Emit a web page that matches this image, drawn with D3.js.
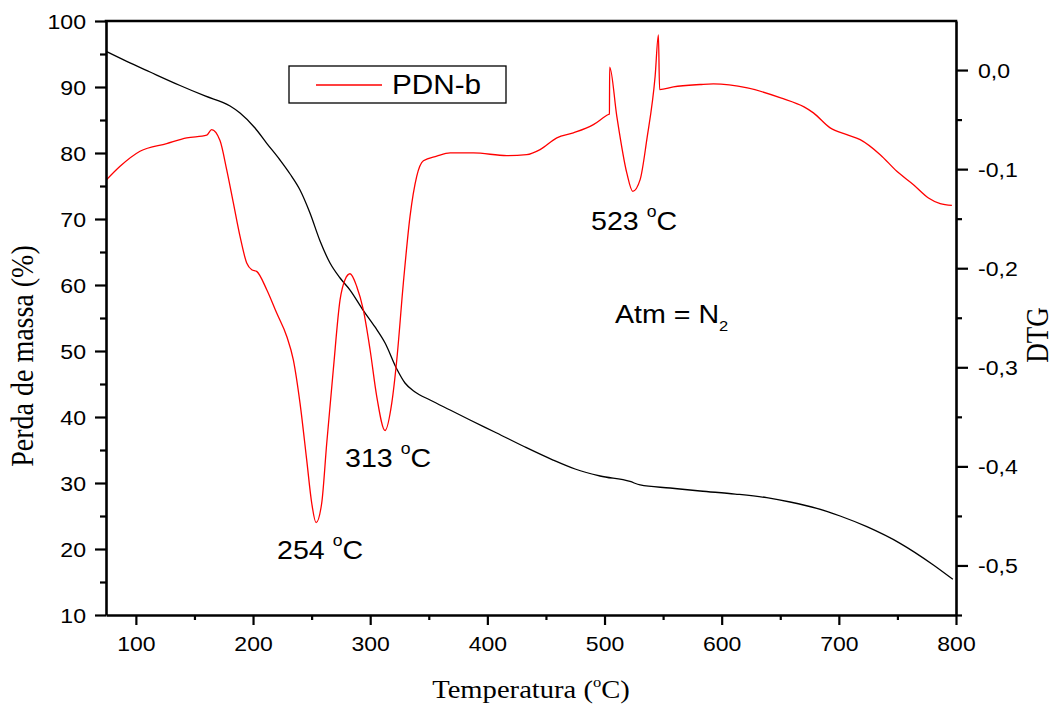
<!DOCTYPE html>
<html>
<head>
<meta charset="utf-8">
<script src="https://cdn.jsdelivr.net/npm/d3@7"></script>
<style>
  html, body { margin: 0; padding: 0; background: #fff; }
  svg { display: block; }
</style>
</head>
<body>
<svg id="chart" width="1054" height="709"></svg>
<script>
// ---------------- data ----------------
// TG curve (left axis): temperature (°C) and mass (%)
const tgTemp = [75.1, 92.2, 112.1, 137.7, 159.0, 180.4, 188.9, 201.7, 211.7, 223.0, 231.6, 240.1, 248.6, 257.2, 265.7, 274.3, 282.8, 293.9, 304.1, 312.7, 322.7, 329.7, 338.3, 351.1, 368.2, 385.2, 408.0, 432.2, 456.1, 474.9, 496.2, 521.8, 530.4, 556.0, 581.6, 611.5, 638.5, 658.4, 681.2, 701.1, 723.9, 752.3, 780.7, 797.3];
const tgMass = [95.35, 93.88, 92.27, 90.23, 88.64, 87.12, 86.06, 83.79, 81.47, 78.94, 76.82, 74.39, 70.91, 66.67, 63.33, 61.06, 59.24, 56.21, 53.64, 51.21, 47.27, 45.15, 43.79, 42.58, 41.06, 39.55, 37.58, 35.45, 33.48, 32.12, 31.06, 30.23, 29.70, 29.24, 28.79, 28.33, 27.77, 27.12, 26.17, 25.00, 23.38, 20.86, 17.58, 15.41];

// DTG curve (right axis): temperature (°C) and DTG value
const dtgTemp = [75.1, 86.5, 103.5, 126.3, 143.4, 160.5, 164.7, 171.8, 177.5, 183.2, 188.9, 194.6, 198.9, 203.1, 211.7, 220.2, 228.8, 234.4, 240.1, 245.8, 250.1, 253.8, 258.6, 262.9, 268.5, 274.3, 278.5, 282.8, 288.5, 294.1, 299.9, 305.6, 312.7, 318.4, 322.7, 328.3, 334.0, 339.7, 345.4, 356.8, 368.2, 388.1, 416.6, 433.6, 445.0, 459.3, 473.4, 490.5, 503.3, 504.2, 504.4, 510.5, 519.0, 524.1, 530.4, 536.1, 543.2, 546.0, 547.0, 558.8, 581.6, 592.9, 621.9, 650.4, 670.3, 678.3, 692.6, 706.8, 718.2, 735.3, 749.5, 763.7, 776.5, 786.5, 796.5];
const dtgValue = [-0.1106, -0.0972, -0.0820, -0.0742, -0.0685, -0.0657, -0.0601, -0.0712, -0.1005, -0.1341, -0.1679, -0.1947, -0.2015, -0.2032, -0.2217, -0.2453, -0.2689, -0.2925, -0.3362, -0.3935, -0.4372, -0.4568, -0.4372, -0.3766, -0.3025, -0.2318, -0.2116, -0.2056, -0.2184, -0.2419, -0.2823, -0.3295, -0.3638, -0.3362, -0.2924, -0.2149, -0.1477, -0.1073, -0.0916, -0.0869, -0.0836, -0.0836, -0.0864, -0.0854, -0.0803, -0.0685, -0.0634, -0.0551, -0.0449, -0.0444, 0.0030, -0.0467, -0.1038, -0.1224, -0.1106, -0.0702, -0.0063, 0.0354, -0.0197, -0.0170, -0.0146, -0.0139, -0.0180, -0.0281, -0.0372, -0.0432, -0.0584, -0.0652, -0.0702, -0.0854, -0.1022, -0.1157, -0.1291, -0.1348, -0.1366];

// ticks
const xTicks = [100, 200, 300, 400, 500, 600, 700, 800];
const xMinorTicks = [150, 250, 350, 450, 550, 650, 750];
const yLeftTicks = [10, 20, 30, 40, 50, 60, 70, 80, 90, 100];
const yLeftMinorTicks = [15, 25, 35, 45, 55, 65, 75, 85, 95];
const yRightTicks = [0, -0.1, -0.2, -0.3, -0.4, -0.5];
const yRightMinorTicks = [-0.05, -0.15, -0.25, -0.35, -0.45, -0.55];

// text
const xTitle = "Temperatura (";
const yLeftTitle = "Perda de massa (%)";
const yRightTitle = "DTG";
const legendLabel = "PDN-b";
const peakLabels = [
  { t: 254, text: "254 " },
  { t: 313, text: "313 " },
  { t: 523, text: "523 " }
];
const atmLabel = "Atm = N";

// ---------------- chart ----------------
const svg = d3.select("#chart");
const SANS = "'Liberation Sans', Arial, Helvetica, sans-serif";
const SERIF = "'Liberation Serif', 'Times New Roman', Times, serif";
const SX = 1.1; // horizontal stretch of the original image text

const x = d3.scaleLinear().domain([74.5, 800]).range([106, 956]);
const yL = d3.scaleLinear().domain([10, 100]).range([615, 21]);
const yR = d3.scaleLinear().domain([-0.55, 0.0495]).range([615, 21]);

const locale = d3.formatLocale({ decimal: ",", thousands: ".", grouping: [3], currency: ["", ""], minus: "-" });
const fmtR = locale.format(".1f");

svg.append("rect").attr("width", 1054).attr("height", 709).attr("fill", "#fff");

// curves
const tgData = tgTemp.map((t, i) => [t, tgMass[i]]);
const dtgData = dtgTemp.map((t, i) => [t, dtgValue[i]]);

svg.append("path")
  .datum(tgData)
  .attr("fill", "none")
  .attr("stroke", "#000")
  .attr("stroke-width", 1.3)
  .attr("d", d3.line().x(d => x(d[0])).y(d => yL(d[1])).curve(d3.curveMonotoneX));

svg.append("path")
  .datum(dtgData)
  .attr("fill", "none")
  .attr("stroke", "#ff0000")
  .attr("stroke-width", 1.3)
  .attr("d", d3.line().x(d => x(d[0])).y(d => yR(d[1])).curve(d3.curveMonotoneX));

// axes
function styleAxis(g, labelSize) {
  g.selectAll("path.domain").attr("stroke", "#000").attr("stroke-width", 2.6);
  g.selectAll(".tick line").attr("stroke", "#000").attr("stroke-width", 2.2);
  g.selectAll(".tick text").attr("fill", "#000").attr("font-family", SANS).attr("font-size", labelSize);
}

// left
const gL = svg.append("g").attr("transform", "translate(106,0)")
  .call(d3.axisLeft(yL).tickValues(yLeftTicks).tickSize(11).tickSizeOuter(0).tickPadding(9).tickFormat(d3.format("d")));
styleAxis(gL, 21);
gL.selectAll(".tick text").attr("dy", null).attr("y", 7.5)
  .attr("x", -20 / SX).attr("transform", `scale(${SX},1)`);
const gLm = svg.append("g").attr("transform", "translate(106,0)")
  .call(d3.axisLeft(yL).tickValues(yLeftMinorTicks).tickSize(6).tickSizeOuter(0).tickFormat(""));
styleAxis(gLm, 21);
gLm.select("path.domain").remove();

// bottom
const gB = svg.append("g").attr("transform", "translate(0,615)")
  .call(d3.axisBottom(x).tickValues(xTicks).tickSize(10).tickSizeOuter(0).tickFormat(d3.format("d")));
styleAxis(gB, 20);
gB.selectAll(".tick text").attr("dy", null).attr("y", 36).attr("transform", "scale(1.15,1)");
const gBm = svg.append("g").attr("transform", "translate(0,615)")
  .call(d3.axisBottom(x).tickValues(xMinorTicks).tickSize(5).tickSizeOuter(0).tickFormat(""));
styleAxis(gBm, 20);
gBm.select("path.domain").remove();

// right
const gR = svg.append("g").attr("transform", "translate(956,0)")
  .call(d3.axisRight(yR).tickValues(yRightTicks).tickSize(12).tickSizeOuter(0).tickFormat(d => fmtR(d)));
styleAxis(gR, 21);
gR.selectAll(".tick text").attr("dy", null).attr("y", 7.5)
  .attr("x", 22 / SX).attr("transform", `scale(${SX},1)`);
const gRm = svg.append("g").attr("transform", "translate(956,0)")
  .call(d3.axisRight(yR).tickValues(yRightMinorTicks).tickSize(6).tickSizeOuter(0).tickFormat(""));
styleAxis(gRm, 21);
gRm.select("path.domain").remove();

// top frame line
svg.append("line").attr("x1", x.range()[0] - 1.3).attr("x2", x.range()[1] + 1.3)
  .attr("y1", yL.range()[1]).attr("y2", yL.range()[1])
  .attr("stroke", "#000").attr("stroke-width", 2.6);

// helper for stretched text
function stretchedText(px, py, size, family, anchor) {
  return svg.append("text")
    .attr("transform", `translate(${px},${py}) scale(${SX},1)`)
    .attr("font-family", family).attr("font-size", size)
    .attr("text-anchor", anchor || "start").attr("fill", "#000");
}

// axis titles
const xt = stretchedText(531, 698, 26, SERIF, "middle");
xt.append("tspan").text(xTitle);
xt.append("tspan").attr("font-size", 15).attr("dy", -11).text("o");
xt.append("tspan").attr("dy", 11).text("C)");

svg.append("text")
  .attr("transform", `translate(33,356) scale(${SX},1) rotate(-90)`)
  .attr("font-family", SERIF).attr("font-size", 28).attr("text-anchor", "middle").attr("fill", "#000")
  .text(yLeftTitle);

svg.append("text")
  .attr("transform", `translate(1048,335) scale(1.15,1) rotate(-90)`)
  .attr("font-family", SERIF).attr("font-size", 27).attr("text-anchor", "middle").attr("fill", "#000")
  .text(yRightTitle);

// legend
svg.append("rect").attr("x", 289).attr("y", 66).attr("width", 217).attr("height", 37)
  .attr("fill", "#fff").attr("stroke", "#000").attr("stroke-width", 1.3);
svg.append("line").attr("x1", 316).attr("x2", 382).attr("y1", 85).attr("y2", 85)
  .attr("stroke", "#ff0000").attr("stroke-width", 1.3);
stretchedText(392, 94, 27, SANS).text(legendLabel);

// peak annotations
const peakPos = { 254: [277, 559], 313: [345, 467], 523: [591, 230] };
peakLabels.forEach(p => {
  const [px, py] = peakPos[p.t];
  const t = stretchedText(px, py, 26, SANS);
  t.append("tspan").text(p.text);
  t.append("tspan").attr("font-size", 16).attr("dy", -13).text("o");
  t.append("tspan").attr("dy", 13).text("C");
});

// atmosphere label
const at = stretchedText(615, 323, 26, SANS);
at.append("tspan").text(atmLabel);
at.append("tspan").attr("font-size", 15).attr("dy", 8).text("2");
</script>
</body>
</html>
